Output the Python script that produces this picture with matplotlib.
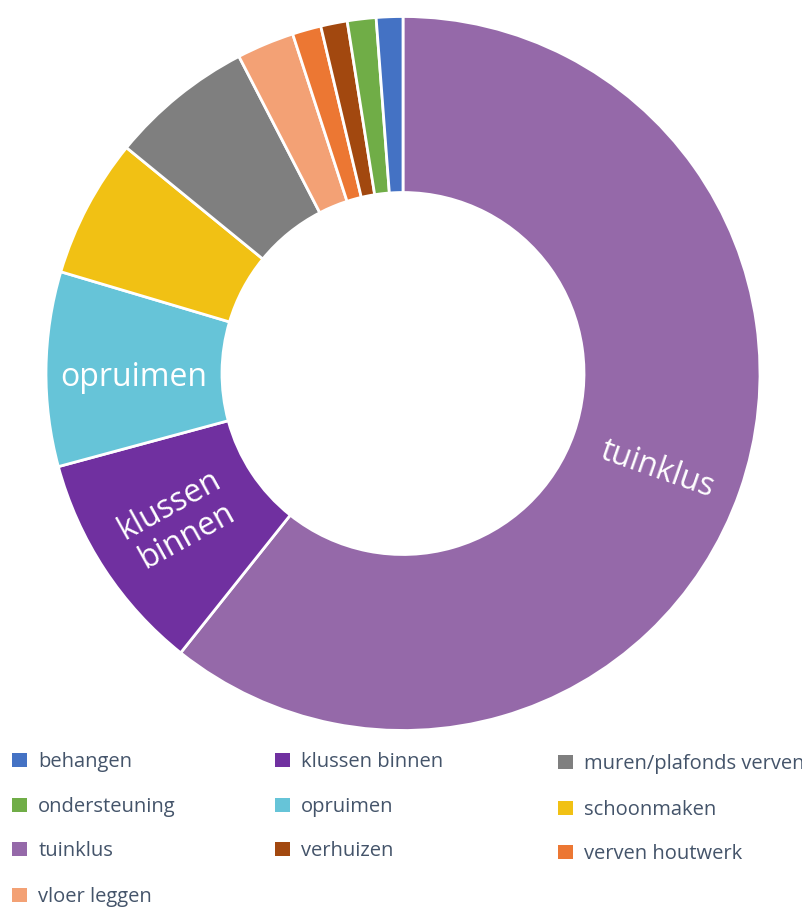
import matplotlib
matplotlib.use("Agg")
import matplotlib.pyplot as plt
from matplotlib.patches import Patch
import numpy as np

# ---- data (pie order, clockwise from top), share in percent ----
categories = ["tuinklus", "klussen binnen", "opruimen", "schoonmaken",
              "muren/plafonds verven", "vloer leggen", "verven houtwerk",
              "verhuizen", "ondersteuning", "behangen"]
shares = [60.7, 10.1, 8.8, 6.3, 6.5, 2.6, 1.3, 1.2, 1.3, 1.2]
colors = ["#9569A9", "#7030A0", "#66C4D8", "#F1C114", "#7F7F7F",
          "#F3A175", "#EC7733", "#A2480F", "#70AD47", "#4472C4"]
shown_labels = {"tuinklus": "tuinklus", "klussen binnen": "klussen\nbinnen",
                "opruimen": "opruimen"}

# legend order (alphabetical, row-major in 3 columns)
legend_order = ["behangen", "klussen binnen", "muren/plafonds verven",
                "ondersteuning", "opruimen", "schoonmaken",
                "tuinklus", "verhuizen", "verven houtwerk",
                "vloer leggen"]

W, H = 803, 907
fig = plt.figure(figsize=(W / 100, H / 100), dpi=100)
plt.rcParams['font.family'] = ['Open Sans', 'DejaVu Sans']

cx, cy, R = 403, 373.5, 357
ax = fig.add_axes([(cx - R) / W, (H - cy - R) / H, 2 * R / W, 2 * R / H])
inner = 181 / R
wedges, _ = ax.pie(shares, colors=colors, startangle=90, counterclock=False,
                   radius=1, wedgeprops=dict(width=1 - inner, edgecolor="white",
                                             linewidth=2))
ax.set_xlim(-1, 1)
ax.set_ylim(-1, 1)
ax.set_aspect("equal")
ax.axis("off")

# inner labels, aligned radially
rmid = (1 + inner) / 2
for w, cat in zip(wedges, categories):
    if cat in shown_labels:
        ang = (w.theta1 + w.theta2) / 2
        x = rmid * np.cos(np.deg2rad(ang))
        y = rmid * np.sin(np.deg2rad(ang))
        rot = ang
        while rot > 90:
            rot -= 180
        while rot < -90:
            rot += 180
        if cat == "tuinklus":
            y -= 0.02
        if cat == "opruimen":
            rot = 0
            y -= 0.02
        if cat == "klussen binnen":
            rot = 29
        ax.text(x, y, shown_labels[cat], color="white", fontsize=23,
                ha="center", va="center", rotation=rot,
                rotation_mode="anchor", linespacing=1.1)

# legend: 3 columns row-major
col_x = [12, 275, 558]
row_y = [[762, 807, 851, 897], [762, 807, 851], [764, 810, 854]]
cmap = dict(zip(categories, colors))
for i, name in enumerate(legend_order):
    r, c = divmod(i, 3)
    fig.legend(handles=[Patch(facecolor=cmap[name], edgecolor="none")],
               labels=[name], loc="center left",
               bbox_to_anchor=(col_x[c] / W, 1 - row_y[c][r] / H),
               frameon=False, fontsize=14.5, borderpad=0, borderaxespad=0,
               handlelength=0.75, handleheight=0.75, handletextpad=0.55,
               labelcolor="#44546A")

fig.savefig("out.png", dpi=100)
